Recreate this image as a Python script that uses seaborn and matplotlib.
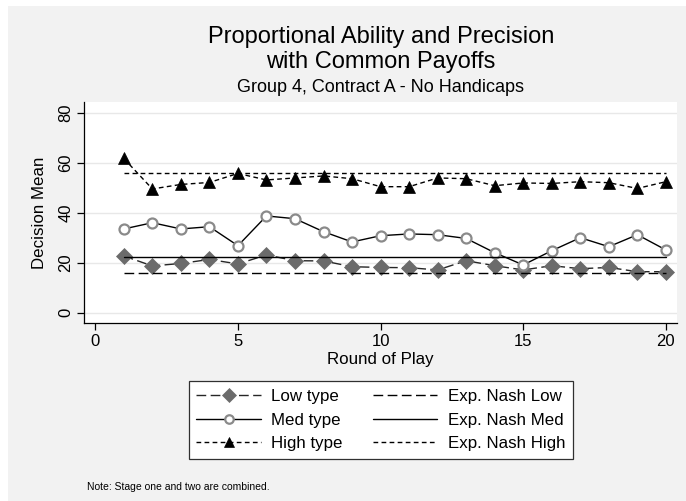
import matplotlib
matplotlib.use("Agg")
import matplotlib.pyplot as plt
from matplotlib.lines import Line2D
from matplotlib.patches import Rectangle
import pandas as pd
import seaborn as sns

# Decision means by round of play
rounds = list(range(1, 21))
low_type = [22.7, 18.7, 19.7, 21.3, 19.5, 23.1, 20.8, 20.7, 18.4, 18.1,
            18.0, 17.1, 20.8, 18.8, 17.1, 18.8, 17.6, 18.1, 16.4, 16.4]
med_type = [33.5, 36.0, 33.5, 34.4, 26.8, 38.7, 37.6, 32.4, 28.3, 30.8,
            31.5, 31.2, 29.7, 24.0, 19.1, 24.8, 30.0, 26.4, 31.2, 25.1]
high_type = [61.7, 49.5, 51.3, 52.1, 55.7, 53.1, 53.9, 54.7, 53.6, 50.4,
             50.4, 53.9, 53.6, 50.8, 51.9, 51.7, 52.4, 52.0, 49.7, 52.4]
# Expected Nash equilibrium levels
nash_low = [15.7] * len(rounds)
nash_med = [22.3] * len(rounds)
nash_high = [56.0] * len(rounds)

series_labels = ["Low type", "Med type", "High type",
                 "Exp. Nash Low", "Exp. Nash Med", "Exp. Nash High"]
y_ticks = [0, 20, 40, 60, 80]
x_ticks = [0, 5, 10, 15, 20]

sns.set_theme(style="white")
plt.rcParams["font.family"] = ["Liberation Sans", "DejaVu Sans"]
plt.rcParams.update({"text.color": "black", "axes.labelcolor": "black",
                     "xtick.color": "black", "ytick.color": "black"})

W, H = 686, 501
fig = plt.figure(figsize=(W / 100, H / 100), dpi=100, facecolor="white")
fig.patches.append(Rectangle((8 / W, 0), 1 - 8 / W, 1 - 6 / H,
                             transform=fig.transFigure, facecolor="#f2f2f2",
                             edgecolor="none", zorder=-10))

ax = fig.add_axes([84.3 / W, 1 - 323.3 / H, (677.3 - 84.3) / W, (323.3 - 101.7) / H])
ax.set_facecolor("white")

long_dash = (0, (7, 3.2))
short_dash = (0, (3.4, 2.4))
lw = 1.0

styles = {
    "Low type": dict(color="#262626", linestyle=long_dash, marker="D",
                     markersize=8.5, markerfacecolor="#6b6b6b",
                     markeredgecolor="#6b6b6b", markeredgewidth=0.5),
    "Med type": dict(color="black", linestyle="-", marker="o",
                     markersize=7.2, markerfacecolor="white",
                     markeredgecolor="#8a8a8a", markeredgewidth=1.6),
    "High type": dict(color="black", linestyle=short_dash, marker="^",
                      markersize=9, markerfacecolor="black",
                      markeredgecolor="black", markeredgewidth=0.5),
    "Exp. Nash Low": dict(color="black", linestyle=long_dash),
    "Exp. Nash Med": dict(color="black", linestyle="-"),
    "Exp. Nash High": dict(color="black", linestyle=short_dash),
}

values = [low_type, med_type, high_type, nash_low, nash_med, nash_high]
for label, vals in zip(series_labels, values):
    df = pd.DataFrame({"round": rounds, "mean": vals})
    sns.lineplot(data=df, x="round", y="mean", ax=ax, lw=lw,
                 legend=False, zorder=3, **styles[label])

ax.set_xlim(-0.385, 20.4)
ax.set_ylim(-4.24, 84.4)
ax.set_xticks(x_ticks)
ax.set_yticks(y_ticks)
ax.set_yticklabels([str(v) for v in y_ticks], rotation=90, va="center")
ax.yaxis.grid(True, color="#e8e8e8", lw=1.0)
ax.xaxis.grid(False)
ax.set_axisbelow(True)
for s in ["top", "right"]:
    ax.spines[s].set_visible(False)
for s in ["left", "bottom"]:
    ax.spines[s].set_color("black")
    ax.spines[s].set_linewidth(0.9)
ax.tick_params(axis="both", direction="out", length=5, width=0.9,
               colors="black", labelsize=12, left=True, bottom=True, pad=3)
ax.set_xlabel("Round of Play", fontsize=12.2, labelpad=2)
ax.set_ylabel("Decision Mean", fontsize=12.2, labelpad=8)

# Titles
cx = (84.3 + 677.3) / 2 / W
fig.text(cx, 1 - 37 / H, "Proportional Ability and Precision", ha="center",
         va="center", fontsize=17)
fig.text(cx, 1 - 62 / H, "with Common Payoffs", ha="center", va="center",
         fontsize=17)
fig.text(cx, 1 - 88 / H, "Group 4, Contract A - No Handicaps", ha="center",
         va="center", fontsize=13)

# Legend
handles = [Line2D([], [], lw=lw, **styles[lab]) for lab in series_labels]
for h in handles[:3]:
    h.set_markersize(h.get_markersize() * 0.85)
leg = fig.legend(handles, series_labels, ncol=2, loc="center",
                 bbox_to_anchor=(cx, 1 - 420 / H), fontsize=12.2,
                 frameon=True, fancybox=False, edgecolor="#303030",
                 facecolor="white", framealpha=1, handlelength=3.8,
                 handletextpad=0.6, columnspacing=1.8, labelspacing=0.5,
                 borderpad=0.45, borderaxespad=0, numpoints=1)
leg.get_frame().set_linewidth(0.9)

fig.text(87 / W, 1 - 487 / H, "Note: Stage one and two are combined.",
         fontsize=7.5, va="center", ha="left")

fig.savefig("out.png", dpi=100, facecolor=fig.get_facecolor())
